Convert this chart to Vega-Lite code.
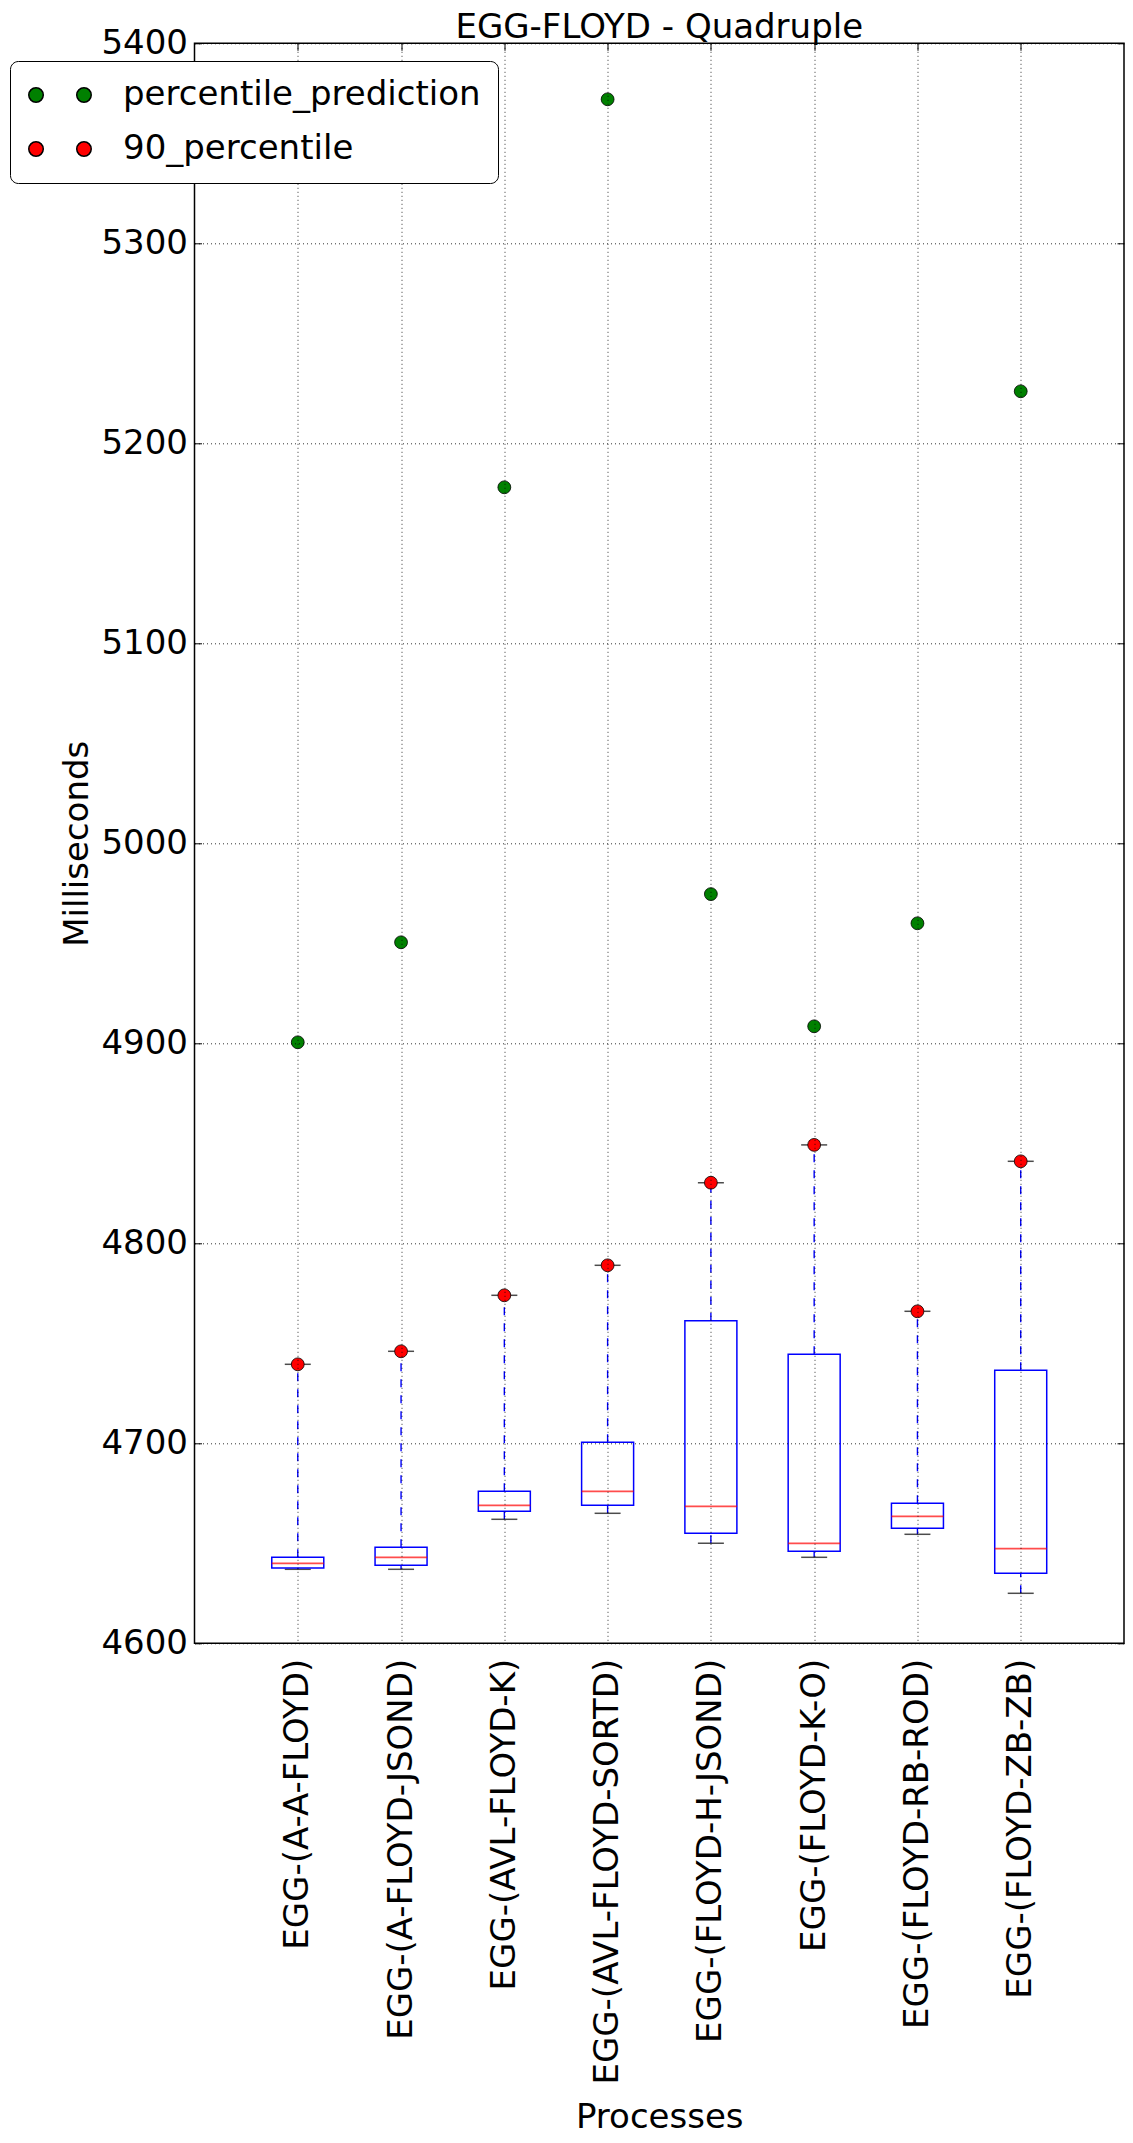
{
  "$schema": "https://vega.github.io/schema/vega-lite/v6.json",
  "width": 929.5,
  "height": 1600,
  "autosize": {"type": "none"},
  "padding": {"left": 194.5, "top": 43.3, "right": 9, "bottom": 499.7},
  "background": "white",
  "title": {
    "text": "EGG-FLOYD - Quadruple",
    "font": "DejaVu Sans",
    "fontSize": 34,
    "fontWeight": "normal",
    "color": "black",
    "anchor": "middle",
    "offset": 0,
    "dy": 19
  },
  "data": {
    "values": [
      {"process": "EGG-(A-A-FLOYD)", "low": 4637, "q1": 4637.7, "median": 4640, "q3": 4643, "high": 4739.5, "percentile_prediction": 4900.5, "90_percentile": 4739.5},
      {"process": "EGG-(A-FLOYD-JSOND)", "low": 4637, "q1": 4639, "median": 4643, "q3": 4648, "high": 4746, "percentile_prediction": 4950.5, "90_percentile": 4746},
      {"process": "EGG-(AVL-FLOYD-K)", "low": 4662, "q1": 4666, "median": 4669, "q3": 4676, "high": 4774, "percentile_prediction": 5178, "90_percentile": 4774},
      {"process": "EGG-(AVL-FLOYD-SORTD)", "low": 4665, "q1": 4669, "median": 4676, "q3": 4700.5, "high": 4789, "percentile_prediction": 5372, "90_percentile": 4789},
      {"process": "EGG-(FLOYD-H-JSOND)", "low": 4650, "q1": 4655, "median": 4668.5, "q3": 4761.3, "high": 4830.3, "percentile_prediction": 4974.6, "90_percentile": 4830.3},
      {"process": "EGG-(FLOYD-K-O)", "low": 4643, "q1": 4646, "median": 4650, "q3": 4744.5, "high": 4849.2, "percentile_prediction": 4908.5, "90_percentile": 4849.2},
      {"process": "EGG-(FLOYD-RB-ROD)", "low": 4654.5, "q1": 4657.5, "median": 4663.5, "q3": 4670, "high": 4766, "percentile_prediction": 4960, "90_percentile": 4766},
      {"process": "EGG-(FLOYD-ZB-ZB)", "low": 4625, "q1": 4635, "median": 4647.3, "q3": 4736.5, "high": 4841, "percentile_prediction": 5226, "90_percentile": 4841}
    ]
  },
  "encoding": {
    "x": {"field": "process", "type": "nominal", "sort": null, "scale": {"type": "point", "padding": 1}, "title": "Processes"}
  },
  "layer": [
    {
      "mark": {"type": "rule", "stroke": "#0000ff", "strokeWidth": 1.4, "strokeDash": [8, 8]},
      "encoding": {
        "x": {
          "field": "process", "type": "nominal", "sort": null, "title": "Processes",
          "axis": {"orient": "bottom", "labelAngle": -90, "labelPadding": 15, "ticks": false, "grid": true, "titlePadding": 257, "zindex": 1, "labelFlush": false, "labelLimit": 800}
        },
        "y": {
          "field": "q3", "type": "quantitative", "title": "Milliseconds",
          "scale": {"domain": [4600, 5400], "nice": false, "zero": false},
          "axis": {"orient": "left", "values": [4600, 4700, 4800, 4900, 5000, 5100, 5200, 5300, 5400], "format": "d", "grid": true, "ticks": true, "tickSize": -7, "labelPadding": 14, "titlePadding": 6, "zindex": 1}
        },
        "y2": {"field": "high"}
      }
    },
    {
      "mark": {"type": "rule", "stroke": "#0000ff", "strokeWidth": 1.4, "strokeDash": [8, 8]},
      "encoding": {
        "x": {"field": "process", "type": "nominal", "sort": null, "axis": null},
        "y": {"field": "low", "type": "quantitative", "axis": null},
        "y2": {"field": "q1"}
      }
    },
    {
      "mark": {"type": "tick", "color": "black", "size": 26, "thickness": 1.5, "orient": "horizontal"},
      "encoding": {
        "x": {"field": "process", "type": "nominal", "sort": null, "axis": null},
        "y": {"field": "low", "type": "quantitative", "axis": null}
      }
    },
    {
      "mark": {"type": "tick", "color": "black", "size": 26, "thickness": 1.5, "orient": "horizontal"},
      "encoding": {
        "x": {"field": "process", "type": "nominal", "sort": null, "axis": null},
        "y": {"field": "high", "type": "quantitative", "axis": null}
      }
    },
    {
      "mark": {"type": "bar", "filled": false, "stroke": "#0000ff", "strokeWidth": 1.5, "size": 52},
      "encoding": {
        "x": {"field": "process", "type": "nominal", "sort": null, "axis": null},
        "y": {"field": "q1", "type": "quantitative", "axis": null},
        "y2": {"field": "q3"}
      }
    },
    {
      "mark": {"type": "tick", "color": "#ff0000", "size": 52, "thickness": 1.8, "orient": "horizontal"},
      "encoding": {
        "x": {"field": "process", "type": "nominal", "sort": null, "axis": null},
        "y": {"field": "median", "type": "quantitative", "axis": null}
      }
    },
    {
      "transform": [{"fold": ["percentile_prediction", "90_percentile"], "as": ["series", "value"]}],
      "mark": {"type": "point", "shape": "circle", "filled": true, "size": 165, "stroke": "black", "strokeWidth": 0.8, "opacity": 1},
      "encoding": {
        "x": {"field": "process", "type": "nominal", "sort": null, "axis": null},
        "y": {"field": "value", "type": "quantitative", "axis": null},
        "color": {
          "field": "series", "type": "nominal",
          "scale": {"domain": ["percentile_prediction", "90_percentile"], "range": ["#008000", "#ff0000"]},
          "legend": {
            "title": null,
            "orient": "none",
            "legendX": -184.5,
            "legendY": 17.7,
            "direction": "vertical",
            "labelFont": "DejaVu Sans",
            "labelFontSize": 34,
            "labelColor": "black",
            "labelLimit": 0,
            "symbolType": "M -4.31 0 A 1 1 0 1 1 -2.31 0 A 1 1 0 1 1 -4.31 0 Z M 2.31 0 A 1 1 0 1 1 4.31 0 A 1 1 0 1 1 2.31 0 Z",
            "symbolSize": 210,
            "symbolStrokeColor": "black",
            "symbolOpacity": 1,
            "symbolOffset": 16,
            "labelOffset": 46,
            "rowPadding": 20,
            "padding": 17,
            "strokeColor": "black",
            "fillColor": "white",
            "cornerRadius": 8,
            "zindex": 2
          }
        }
      }
    },
    {
      "mark": {"type": "rule", "opacity": 0},
      "encoding": {
        "x": {"field": "process", "type": "nominal", "sort": null, "axis": {"orient": "top", "labels": false, "grid": false, "ticks": true, "tickSize": -7, "title": null, "domain": false, "zindex": 1}},
        "y": {"field": "low", "type": "quantitative", "axis": {"orient": "right", "values": [4600, 4700, 4800, 4900, 5000, 5100, 5200, 5300, 5400], "labels": false, "grid": false, "ticks": true, "tickSize": -7, "title": null, "domain": false, "zindex": 1}}
      }
    }
  ],
  "resolve": {"axis": {"x": "independent", "y": "independent"}},
  "config": {
    "view": {"stroke": "black", "strokeWidth": 1.5},
    "axis": {
      "domain": false,
      "labelFont": "DejaVu Sans",
      "labelFontSize": 34,
      "labelColor": "black",
      "titleFont": "DejaVu Sans",
      "titleFontSize": 34,
      "titleFontWeight": "normal",
      "titleColor": "black",
      "tickColor": "black",
      "tickWidth": 1,
      "gridColor": "black",
      "gridOpacity": 1,
      "gridWidth": 0.8,
      "gridDash": [1, 3],
      "labelOverlap": false
    }
  }
}
